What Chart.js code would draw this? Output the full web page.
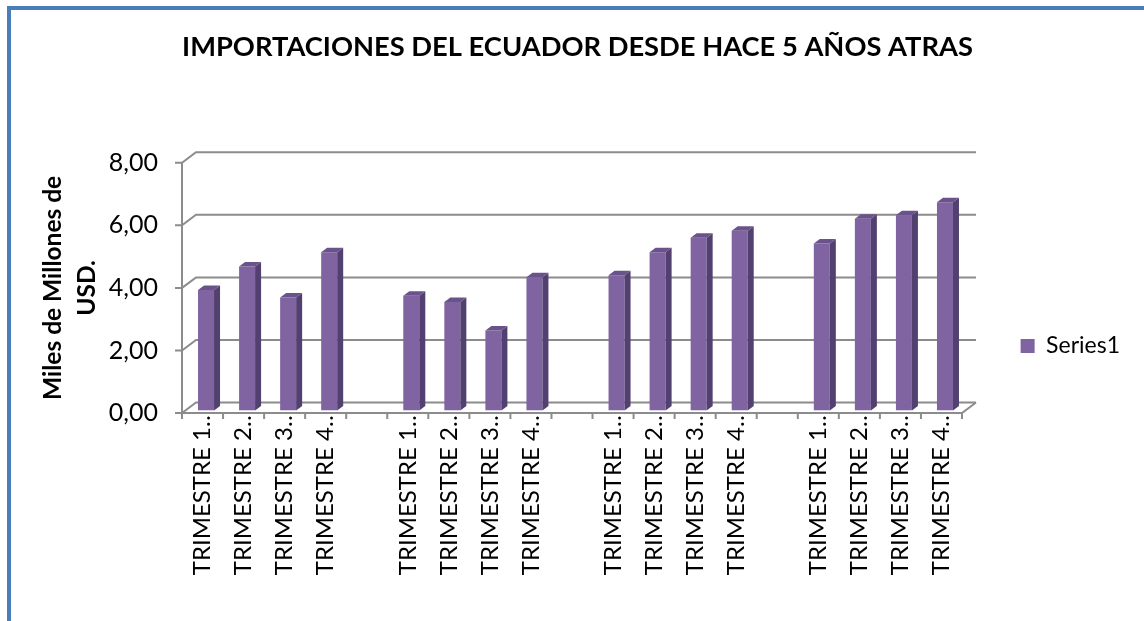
<!DOCTYPE html>
<html>
<head>
<meta charset="utf-8">
<title>Importaciones del Ecuador</title>
<script src="https://cdn.jsdelivr.net/npm/chart.js@4.4.1/dist/chart.umd.min.js"></script>
<style>
  html, body { margin: 0; padding: 0; background: #fff; overflow: hidden; width: 1144px; height: 621px; }
  #frame {
    position: absolute; left: 7px; top: 6px;
    border-left: 4px solid #4a7ebb; border-top: 4px solid #4a7ebb;
    width: 1133px; height: 672px;
  }
  canvas { display: block; }
</style>
</head>
<body>
<div id="frame"><canvas id="chart" width="1133" height="672"></canvas></div>
<script>
// datos del grafico
const categories = [
  "TRIMESTRE 1…", "TRIMESTRE 2…", "TRIMESTRE 3…", "TRIMESTRE 4…", "",
  "TRIMESTRE 1…", "TRIMESTRE 2…", "TRIMESTRE 3…", "TRIMESTRE 4…", "",
  "TRIMESTRE 1…", "TRIMESTRE 2…", "TRIMESTRE 3…", "TRIMESTRE 4…", "",
  "TRIMESTRE 1…", "TRIMESTRE 2…", "TRIMESTRE 3…", "TRIMESTRE 4…"
];
const series1 = [
  3.85, 4.60, 3.61, 5.06, null,
  3.67, 3.47, 2.56, 4.26, null,
  4.32, 5.06, 5.52, 5.75, null,
  5.34, 6.13, 6.24, 6.66
];
const yTicks = [0, 2, 4, 6, 8];
const yTickLabels = ["0,00", "2,00", "4,00", "6,00", "8,00"];

const FONT = "Lato";
const GRID = "#8c8c8c";
const BAR = "#8064a2";
const BAR_SIDE = "#524070";
const BAR_TOP = "#6a528a";

// desplazamientos de la perspectiva 3D
const BACK = { x: 14, y: -10.5 };
const BARPLANE = { x: 3.5, y: -2.5 };
const DEPTH = { x: 6, y: -4.5 };
const PAD = 14;

const frame3d = {
  id: "frame3d",
  beforeDatasetsDraw(chart) {
    const ctx = chart.ctx;
    const { left, right } = chart.chartArea;
    const y = chart.scales.y;
    const x = chart.scales.x;
    const y0 = y.getPixelForValue(0);
    const yTop = y.getPixelForValue(yTicks[yTicks.length - 1]);
    ctx.save();
    ctx.strokeStyle = GRID;
    ctx.lineWidth = 2;
    ctx.beginPath();
    yTicks.forEach(function (v) {
      const py = y.getPixelForValue(v);
      ctx.moveTo(left - 7, py);
      ctx.lineTo(left, py);
      ctx.lineTo(left + BACK.x, py + BACK.y);
      ctx.lineTo(right + BACK.x, py + BACK.y);
    });
    // eje frontal
    ctx.moveTo(left, yTop);
    ctx.lineTo(left, y0);
    ctx.lineTo(right, y0);
    ctx.lineTo(right + BACK.x, y0 + BACK.y);
    // marcas de categoria
    const step = (right - left) / categories.length;
    for (let i = 0; i <= categories.length; i++) {
      const px = x.getPixelForValue(i) - step / 2;
      ctx.moveTo(px, y0);
      ctx.lineTo(px, y0 + 6);
    }
    ctx.stroke();
    ctx.restore();

    ctx.save();
    ctx.translate(BARPLANE.x, BARPLANE.y);
  },
  afterDatasetsDraw(chart) {
    const ctx = chart.ctx;
    chart.getDatasetMeta(0).data.forEach(function (bar, i) {
      if (series1[i] == null) return;
      const p = bar.getProps(["x", "y", "base", "width"], true);
      const l = p.x - p.width / 2;
      const r = p.x + p.width / 2;
      ctx.fillStyle = BAR_SIDE;
      ctx.beginPath();
      ctx.moveTo(r, p.y);
      ctx.lineTo(r + DEPTH.x, p.y + DEPTH.y);
      ctx.lineTo(r + DEPTH.x, p.base + DEPTH.y);
      ctx.lineTo(r, p.base);
      ctx.closePath();
      ctx.fill();
      ctx.fillStyle = BAR_TOP;
      ctx.beginPath();
      ctx.moveTo(l, p.y);
      ctx.lineTo(l + DEPTH.x, p.y + DEPTH.y);
      ctx.lineTo(r + DEPTH.x, p.y + DEPTH.y);
      ctx.lineTo(r, p.y);
      ctx.closePath();
      ctx.fill();
    });
    ctx.restore();
  }
};

new Chart(document.getElementById("chart"), {
  type: "bar",
  data: {
    labels: categories,
    datasets: [{
      label: "Series1",
      data: series1,
      backgroundColor: BAR,
      borderWidth: 0,
      barPercentage: 0.39,
      categoryPercentage: 1
    }]
  },
  options: {
    responsive: false,
    animation: false,
    layout: { padding: { left: PAD, right: PAD } },
    plugins: {
      title: {
        display: true,
        text: "IMPORTACIONES DEL ECUADOR DESDE HACE 5 AÑOS ATRAS",
        color: "#000",
        font: { family: FONT, size: 27.3, weight: "bold", lineHeight: 1.2 },
        padding: { top: 21, bottom: 99 }
      },
      legend: {
        position: "right",
        labels: {
          color: "#000",
          font: { family: FONT, size: 23 },
          boxWidth: 14,
          boxHeight: 14,
          padding: 10
        }
      },
      tooltip: { enabled: false }
    },
    scales: {
      x: {
        grid: { display: false, drawTicks: false },
        border: { display: false },
        ticks: {
          color: "#000",
          font: { family: FONT, size: 24 },
          autoSkip: false,
          minRotation: 90,
          maxRotation: 90,
          padding: -4
        },
        afterFit(s) { s.height = 672 - 403; }
      },
      y: {
        min: 0,
        max: 8,
        grid: { display: false, drawTicks: false },
        border: { display: false },
        ticks: {
          stepSize: 2,
          color: "#000",
          font: { family: FONT, size: 25 },
          padding: 24,
          callback: function (v) { return yTickLabels[yTicks.indexOf(v)]; }
        },
        title: {
          display: true,
          text: ["Miles de Millones de", "USD."],
          color: "#000",
          font: { family: FONT, size: 24.5, weight: "bold", lineHeight: 1.35 },
          padding: { top: 26 - PAD, bottom: 0 }
        },
        afterFit(s) { s.width = 171 - PAD; }
      },
      y2: {
        position: "right",
        display: true,
        grid: { display: false, drawTicks: false },
        border: { display: false },
        ticks: { display: false },
        afterFit(s) { s.width = Math.max(0, 1133 - PAD - s.chart.legend.width - 951); }
      }
    }
  },
  plugins: [frame3d]
});
</script>
</body>
</html>
